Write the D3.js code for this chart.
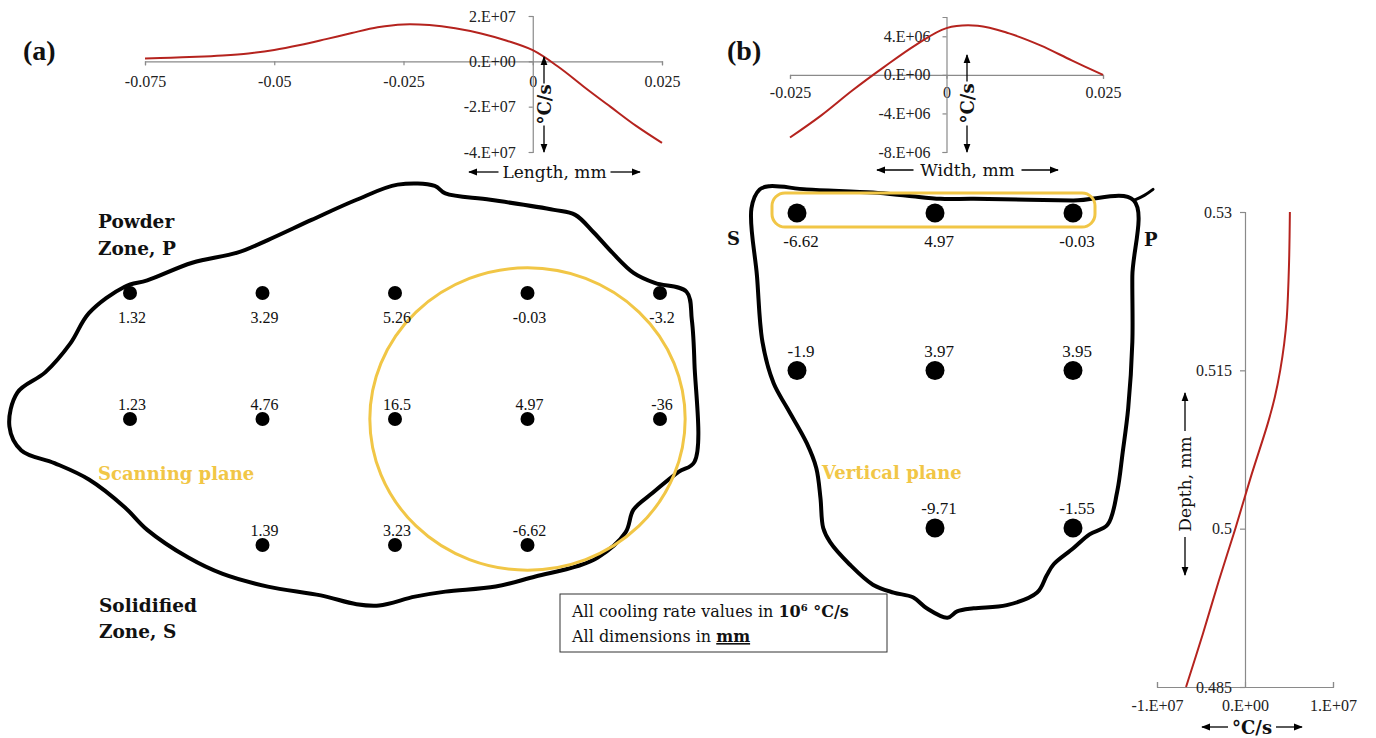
<!DOCTYPE html>
<html>
<head>
<meta charset="utf-8">
<script src="https://cdn.jsdelivr.net/npm/d3@7"></script>
<style>
  body { margin: 0; background: #fff; }
  .axis .tick text { font-family: "Liberation Serif", serif; font-size: 16px; fill: #222; }
  .axis path, .axis line { stroke: #8a8a8a; stroke-width: 1.2; }
  .num { font-family: "Liberation Serif", serif; fill: #111; }
  .word { font-family: "DejaVu Serif", serif; fill: #111; }
</style>
</head>
<body>
<svg id="fig" width="1376" height="738"></svg>
<script>
// ---- data ----
// (a) cooling rate along the length (mm, °C/s)
const lengthPos  = [-0.075, -0.07, -0.065, -0.06, -0.055, -0.05, -0.045, -0.04, -0.035, -0.03, -0.025,
                    -0.02, -0.015, -0.01, -0.005, 0, 0.005, 0.01, 0.015, 0.02, 0.025];
const lengthRate = [0.12e7, 0.16e7, 0.2e7, 0.26e7, 0.35e7, 0.5e7, 0.72e7, 0.98e7, 1.25e7, 1.5e7, 1.63e7,
                    1.6e7, 1.46e7, 1.23e7, 0.91e7, 0.49e7, -0.25e7, -1.14e7, -2.0e7, -2.85e7, -3.6e7];
const lengthTicks = [-0.075, -0.05, -0.025, 0, 0.025];
const lengthRateTicks = [2e7, 0, -2e7, -4e7];

// (b) cooling rate across the width
const widthPos  = [-0.025, -0.02, -0.015, -0.01, -0.005, 0, 0.005, 0.01, 0.015, 0.02, 0.025];
const widthRate = [-6.5e6, -4.2e6, -1.6e6, 0.8e6, 3.06e6, 4.85e6, 5.1e6, 4.3e6, 3.06e6, 1.5e6, 0];
const widthTicks = [-0.025, 0, 0.025];
const widthRateTicks = [4e6, 0, -4e6, -8e6];

// (b) cooling rate through the depth
const depthPos  = [0.53, 0.525, 0.52, 0.5175, 0.515, 0.5125, 0.51, 0.505, 0.5, 0.495, 0.49, 0.485];
const depthRate = [5.1e6, 5.0e6, 4.75e6, 4.45e6, 4.0e6, 3.4e6, 2.6e6, 0.7e6, -1.1e6, -3.0e6, -4.8e6, -6.7e6];
const depthTicks = [0.53, 0.515, 0.5, 0.485];
const depthRateTicks = [-1e7, 0, 1e7];

// point values, 10^6 °C/s (rows top to bottom, null = no point)
const scanRates = [[1.32, 3.29, 5.26, -0.03, -3.2],
                   [1.23, 4.76, 16.5, 4.97, -36],
                   [null, 1.39, 3.23, -6.62, null]];
const vertRates = [[-6.62, 4.97, -0.03],
                   [-1.9, 3.97, 3.95],
                   [null, -9.71, -1.55]];

// sketched pool outlines, in units of the point grid (col, row)
const scanOutline = [[2.02,-0.86],[2.30,-0.85],[2.38,-0.79],[2.72,-0.74],[3.20,-0.66],[3.36,-0.62],[3.50,-0.48],
  [3.64,-0.32],[3.80,-0.16],[3.96,-0.08],[4.20,-0.01],[4.24,0.21],[4.26,0.56],[4.26,1.34],[4.14,1.42],[3.94,1.59],
  [3.80,1.72],[3.74,1.90],[3.53,2.10],[3.37,2.17],[3.06,2.25],[2.76,2.33],[2.38,2.37],[2.15,2.41],[1.88,2.48],
  [1.71,2.47],[1.44,2.40],[1.04,2.33],[0.70,2.23],[0.44,2.10],[0.13,1.88],[-0.04,1.70],[-0.31,1.48],[-0.57,1.35],
  [-0.82,1.25],[-0.91,1.06],[-0.85,0.79],[-0.64,0.63],[-0.45,0.40],[-0.31,0.16],[-0.04,-0.05],[0.13,-0.10],
  [0.47,-0.24],[0.81,-0.32],[1.04,-0.42],[1.37,-0.58],[1.71,-0.74]];
const vertOutline = [[-0.27,-0.15],[-0.20,-0.17],[0.07,-0.15],[0.55,-0.13],[0.80,-0.11],[1.04,-0.09],[1.28,-0.09],
  [2.00,-0.08],[2.44,-0.08],[2.43,0.40],[2.43,0.82],[2.40,1.24],[2.36,1.52],[2.32,1.77],[2.25,1.98],[2.12,2.04],
  [2.00,2.13],[1.86,2.23],[1.81,2.30],[1.74,2.41],[1.52,2.49],[1.28,2.51],[1.16,2.53],[1.09,2.57],[0.94,2.51],
  [0.84,2.44],[0.70,2.41],[0.55,2.36],[0.38,2.23],[0.24,2.09],[0.19,2.00],[0.17,1.81],[0.14,1.62],[0.07,1.46],
  [-0.07,1.24],[-0.17,1.08],[-0.25,0.82],[-0.29,0.40],[-0.33,-0.03]];
const vertFlick = [[2.44,-0.08],[2.52,-0.11],[2.58,-0.15]];

const red = '#b5231e', gold = '#f1c646';
const svg = d3.select('#fig');

svg.append('defs').append('marker')
  .attr('id', 'head').attr('viewBox', '0 0 10 10').attr('refX', 9).attr('refY', 5)
  .attr('markerWidth', 9).attr('markerHeight', 9).attr('markerUnits', 'userSpaceOnUse')
  .attr('orient', 'auto')
  .append('path').attr('d', 'M0,1.2L10,5L0,8.8Z').attr('fill', '#000');

const sci = d => {
  if (d === 0) return '0.E+00';
  const e = Math.floor(Math.log10(Math.abs(d)));
  return `${Math.round(d / 10 ** e)}.E+${String(e).padStart(2, '0')}`;
};
const smooth = d3.curveCatmullRom.alpha(0.5);

// double-headed arrow with its label sitting in a gap in the middle
function doubleArrow(x1, y1, x2, y2, gap, label, size, weight) {
  const mx = (x1 + x2) / 2, my = (y1 + y2) / 2;
  const len = Math.hypot(x2 - x1, y2 - y1), ux = (x2 - x1) / len, uy = (y2 - y1) / len;
  const g = svg.append('g');
  [[x1, y1, -1], [x2, y2, 1]].forEach(([ex, ey, s]) => {
    g.append('line')
      .attr('x1', mx + s * ux * gap).attr('y1', my + s * uy * gap)
      .attr('x2', ex).attr('y2', ey)
      .attr('stroke', '#000').attr('stroke-width', 1.3).attr('marker-end', 'url(#head)');
  });
  const rot = x1 === x2 ? -90 : 0;
  g.append('text').attr('class', 'word')
    .attr('transform', `translate(${mx},${my}) rotate(${rot})`)
    .attr('text-anchor', 'middle').attr('dominant-baseline', 'central')
    .attr('font-size', size).attr('font-weight', weight).text(label);
}

// ---------- (a) length profile ----------
const xa = d3.scaleLinear().domain([-0.075, 0.025]).range([145, 662]);
const ya = d3.scaleLinear().domain([-4e7, 2e7]).range([152, 16]);
svg.append('g').attr('class', 'axis').attr('transform', `translate(0,${ya(0)})`)
  .call(d3.axisBottom(xa).tickValues(lengthTicks).tickSize(4).tickPadding(10).tickFormat(d => String(d)));
svg.append('g').attr('class', 'axis').attr('transform', `translate(${xa(0)},0)`)
  .call(d3.axisLeft(ya).tickValues(lengthRateTicks).tickSize(4).tickPadding(13).tickFormat(sci));
svg.append('path')
  .attr('d', d3.line().x(d => xa(d[0])).y(d => ya(d[1])).curve(smooth)(d3.zip(lengthPos, lengthRate)))
  .attr('fill', 'none').attr('stroke', red).attr('stroke-width', 2);
doubleArrow(544, 57, 544, 152, 21, '°C/s', 18, 'bold');
doubleArrow(469, 172, 640, 172, 56, 'Length, mm', 17, 'normal');

// ---------- (b) width profile ----------
const xb = d3.scaleLinear().domain([-0.025, 0.025]).range([790, 1103]);
const yb = d3.scaleLinear().domain([-8e6, 6e6]).range([152, 17]);
svg.append('g').attr('class', 'axis').attr('transform', `translate(0,${yb(0)})`)
  .call(d3.axisBottom(xb).tickValues(widthTicks).tickSize(4).tickPadding(8).tickFormat(d => String(d)));
svg.append('g').attr('class', 'axis').attr('transform', `translate(${xb(0)},0)`)
  .call(d3.axisLeft(yb).tickValues(widthRateTicks).tickSize(4).tickPadding(12).tickFormat(sci));
svg.append('path')
  .attr('d', d3.line().x(d => xb(d[0])).y(d => yb(d[1])).curve(smooth)(d3.zip(widthPos, widthRate)))
  .attr('fill', 'none').attr('stroke', red).attr('stroke-width', 2);
doubleArrow(967, 55, 967, 152, 22, '°C/s', 18, 'bold');
doubleArrow(877, 170, 1058, 170, 54, 'Width, mm', 17, 'normal');

// ---------- (b) depth profile ----------
const xc = d3.scaleLinear().domain([-1e7, 1e7]).range([1157, 1333]);
const yc = d3.scaleLinear().domain([0.485, 0.53]).range([687, 212]);
svg.append('g').attr('class', 'axis').attr('transform', `translate(0,${yc(0.485)})`)
  .call(d3.axisBottom(xc).tickValues(depthRateTicks).tickSize(-5).tickPadding(13).tickFormat(sci));
svg.append('g').attr('class', 'axis').attr('transform', `translate(${xc(0)},0)`)
  .call(d3.axisLeft(yc).tickValues(depthTicks).tickSize(5).tickPadding(8).tickFormat(d => String(d)));
svg.append('path')
  .attr('d', d3.line().x(d => xc(d[1])).y(d => yc(d[0])).curve(smooth)(d3.zip(depthPos, depthRate)))
  .attr('fill', 'none').attr('stroke', red).attr('stroke-width', 2);
doubleArrow(1185, 393, 1185, 575, 53, 'Depth, mm', 17, 'normal');
doubleArrow(1202, 727, 1302, 727, 24, '°C/s', 18, 'bold');

// ---------- (a) scanning plane ----------
const sc = d3.scaleLinear().domain([0, 4]).range([130, 660]);
const sr = d3.scaleLinear().domain([0, 2]).range([293, 545]);
const outlineA = d3.line().x(d => sc(d[0])).y(d => sr(d[1])).curve(d3.curveCatmullRomClosed.alpha(0.5));
svg.append('path').attr('d', outlineA(scanOutline))
  .attr('fill', 'none').attr('stroke', '#000').attr('stroke-width', 4).attr('stroke-linejoin', 'round');
svg.append('ellipse').attr('cx', sc(3)).attr('cy', sr(1))
  .attr('rx', sc(1.19) - sc(0)).attr('ry', sr(1.2) - sr(0))
  .attr('fill', 'none').attr('stroke', gold).attr('stroke-width', 3);

const scanPts = scanRates.flatMap((row, r) => row.map((v, c) => ({ v, r, c }))).filter(d => d.v !== null);
svg.append('g').selectAll('circle').data(scanPts).join('circle')
  .attr('cx', d => sc(d.c)).attr('cy', d => sr(d.r)).attr('r', 7).attr('fill', '#000');
svg.append('g').selectAll('text').data(scanPts).join('text')
  .attr('class', 'num').attr('font-size', 16).attr('text-anchor', 'middle')
  .attr('x', d => sc(d.c) + 2).attr('y', d => sr(d.r) + (d.r === 0 ? 30 : -9))
  .text(d => d.v);

// ---------- (b) vertical plane ----------
const vc = d3.scaleLinear().domain([0, 2]).range([797, 1073]);
const vr = d3.scaleLinear().domain([0, 2]).range([213, 528]);
const outlineB = d3.line().x(d => vc(d[0])).y(d => vr(d[1]));
svg.append('path').attr('d', outlineB.curve(d3.curveCatmullRomClosed.alpha(0.5))(vertOutline))
  .attr('fill', 'none').attr('stroke', '#000').attr('stroke-width', 4).attr('stroke-linejoin', 'round');
svg.append('path').attr('d', outlineB.curve(d3.curveBasis)(vertFlick))
  .attr('fill', 'none').attr('stroke', '#000').attr('stroke-width', 3).attr('stroke-linecap', 'round');
svg.append('rect')
  .attr('x', vc(0) - 25).attr('y', vr(0) - 20).attr('width', vc(2) - vc(0) + 47).attr('height', 34)
  .attr('rx', 13).attr('fill', 'none').attr('stroke', gold).attr('stroke-width', 3);

const vertPts = vertRates.flatMap((row, r) => row.map((v, c) => ({ v, r, c }))).filter(d => d.v !== null);
svg.append('g').selectAll('circle').data(vertPts).join('circle')
  .attr('cx', d => vc(d.c)).attr('cy', d => vr(d.r)).attr('r', 9.5).attr('fill', '#000');
svg.append('g').selectAll('text').data(vertPts).join('text')
  .attr('class', 'num').attr('font-size', 17).attr('text-anchor', 'middle')
  .attr('x', d => vc(d.c) + 4).attr('y', d => vr(d.r) + (d.r === 0 ? 34 : -14))
  .text(d => d.v);

// ---------- labels ----------
const words = [
  { t: '(a)', x: 23, y: 60, s: 28, w: 'bold', f: 'Liberation Serif' },
  { t: '(b)', x: 727, y: 60, s: 28, w: 'bold', f: 'Liberation Serif' },
  { t: 'Powder', x: 98, y: 228, s: 18.5, w: 'bold' },
  { t: 'Zone, P', x: 98, y: 255, s: 18.5, w: 'bold' },
  { t: 'Solidified', x: 99, y: 612, s: 18.5, w: 'bold' },
  { t: 'Zone, S', x: 99, y: 638, s: 18.5, w: 'bold' },
  { t: 'Scanning plane', x: 98, y: 480, s: 18, w: 'bold', c: gold },
  { t: 'Vertical plane', x: 822, y: 479, s: 18, w: 'bold', c: gold },
  { t: 'S', x: 727, y: 245, s: 18, w: 'bold' },
  { t: 'P', x: 1144, y: 246, s: 18, w: 'bold' }
];
svg.append('g').selectAll('text').data(words).join('text')
  .attr('class', 'word').attr('x', d => d.x).attr('y', d => d.y)
  .attr('font-size', d => d.s).attr('font-weight', d => d.w)
  .style('font-family', d => d.f || null).style('fill', d => d.c || null)
  .text(d => d.t);

// note box
const box = svg.append('g');
box.append('rect').attr('x', 560).attr('y', 594).attr('width', 327).attr('height', 58)
  .attr('fill', '#fff').attr('stroke', '#333').attr('stroke-width', 1);
const l1 = box.append('text').attr('class', 'word').attr('x', 572).attr('y', 617).attr('font-size', 16);
l1.append('tspan').text('All cooling rate values in ');
l1.append('tspan').attr('font-weight', 'bold').text('10');
l1.append('tspan').attr('font-weight', 'bold').attr('font-size', 10).attr('dy', -6).text('6');
l1.append('tspan').attr('font-weight', 'bold').attr('dy', 6).text(' °C/s');
const l2 = box.append('text').attr('class', 'word').attr('x', 572).attr('y', 642).attr('font-size', 16);
l2.append('tspan').text('All dimensions in ');
l2.append('tspan').attr('font-weight', 'bold').attr('text-decoration', 'underline').text('mm');
</script>
</body>
</html>
